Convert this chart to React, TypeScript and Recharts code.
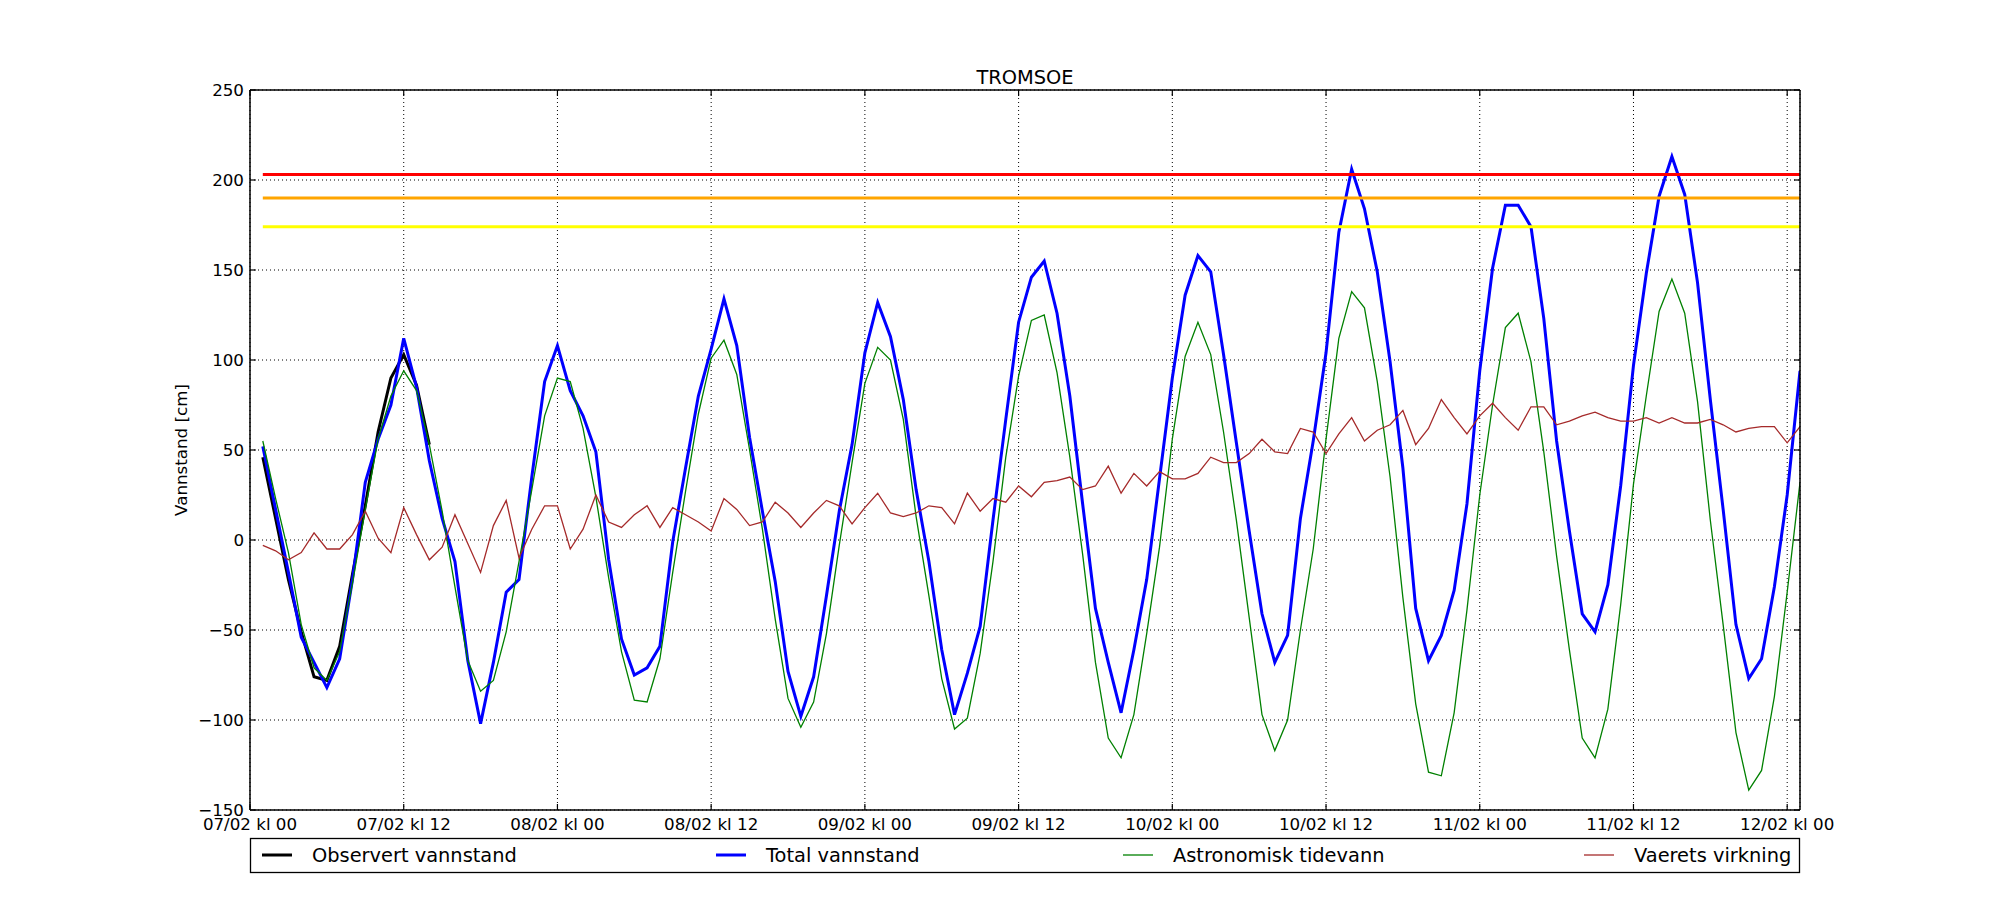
import React from 'react';
import { LineChart, Line, XAxis, YAxis, CartesianGrid, ReferenceLine } from 'recharts';

const chartTitle = 'TROMSOE';
const yAxisTitle = 'Vannstand [cm]';

const xTicks = [0, 12, 24, 36, 48, 60, 72, 84, 96, 108, 120];
const xTickLabels = [
  '07/02 kl 00', '07/02 kl 12', '08/02 kl 00', '08/02 kl 12', '09/02 kl 00', '09/02 kl 12',
  '10/02 kl 00', '10/02 kl 12', '11/02 kl 00', '11/02 kl 12', '12/02 kl 00',
];
const yTicks = [-150, -100, -50, 0, 50, 100, 150, 200, 250];

// hourly values from 07/02 kl 01
const observed = [46, 12, -22, -51, -76, -78, -59, -19, 19, 60, 90, 103, 86, 53];

const total = [
  52, 17, -18, -54, -68, -82, -66, -22, 32, 56,
  75, 112, 85, 44, 12, -12, -67, -102, -68, -29,
  -22, 35, 88, 108, 83, 69, 49, -11, -55, -75,
  -71, -59, -1, 40, 80, 106, 134, 108, 57, 16,
  -23, -73, -98, -76, -31, 16, 53, 104, 132, 113,
  78, 28, -12, -61, -97, -74, -48, 11, 67, 121,
  146, 155, 126, 80, 20, -38, -68, -96, -61, -22,
  34, 90, 136, 158, 149, 103, 54, 5, -41, -68,
  -53, 12, 55, 104, 171, 206, 184, 149, 99, 40,
  -38, -67, -53, -28, 20, 94, 151, 186, 186, 174,
  123, 55, 5, -41, -51, -25, 30, 97, 148, 191,
  213, 192, 143, 78, 17, -47, -77, -66, -26, 25,
  94,
];

const astro = [
  55, 23, -7, -47, -71, -78, -62, -24, 17, 56,
  80, 94, 83, 53, 16, -26, -67, -84, -78, -51,
  -12, 28, 69, 90, 88, 62, 24, -21, -62, -89,
  -90, -66, -18, 27, 70, 101, 111, 92, 50, 6,
  -44, -88, -104, -90, -52, -3, 43, 87, 107, 100,
  67, 13, -31, -77, -105, -99, -63, -12, 46, 91,
  122, 125, 93, 46, -8, -68, -110, -121, -97, -52,
  -4, 56, 102, 121, 103, 60, 11, -43, -97, -117,
  -100, -50, -5, 56, 112, 138, 129, 88, 35, -32,
  -91, -129, -131, -96, -39, 25, 75, 118, 126, 99,
  49, -9, -61, -110, -121, -94, -36, 31, 80, 127,
  145, 126, 77, 11, -47, -107, -139, -128, -87, -29,
  32,
];

const weather = [
  -3, -6, -11, -7, 4, -5, -5, 3, 16, 1,
  -7, 18, 3, -11, -4, 14, -2, -18, 8, 22,
  -10, 6, 19, 19, -5, 6, 25, 10, 7, 14,
  19, 7, 18, 14, 10, 5, 23, 17, 8, 10,
  21, 15, 7, 15, 22, 19, 9, 18, 26, 15,
  13, 15, 19, 18, 9, 26, 16, 23, 21, 30,
  24, 32, 33, 35, 28, 30, 41, 26, 37, 30,
  38, 34, 34, 37, 46, 43, 43, 48, 56, 49,
  48, 62, 60, 48, 59, 68, 55, 61, 64, 72,
  53, 62, 78, 68, 59, 69, 76, 68, 61, 74,
  74, 64, 66, 69, 71, 68, 66, 66, 68, 65,
  68, 65, 65, 67, 64, 60, 62, 63, 63, 54,
  63,
];

const thresholdLevels = [203, 190, 174];
const thresholdColors = ['#ff0000', '#ffa500', '#ffff00'];

const legendItems = [
  { label: 'Observert vannstand', color: '#000000', width: 3 },
  { label: 'Total vannstand', color: '#0000ff', width: 3 },
  { label: 'Astronomisk tidevann', color: '#008000', width: 1.3 },
  { label: 'Vaerets virkning', color: '#a52a2a', width: 1.3 },
];
const legendX = [262, 716, 1123, 1584];

const rows = total.map((t, i) => ({
  hour: i + 1,
  observed: i < observed.length ? observed[i] : undefined,
  total: t,
  astro: astro[i],
  weather: weather[i],
}));
const firstHour = rows[0].hour;
const lastHour = rows[rows.length - 1].hour;

const FONT = 'DejaVu Sans';
const minus = (v: number) => (v < 0 ? '\u2212' + Math.abs(v) : String(v));

const BottomTick = (props: any) => {
  const { x, y, payload } = props;
  const idx = xTicks.indexOf(payload.value);
  return (
    <g>
      <line x1={x} y1={y} x2={x} y2={y - 6} stroke="#000" strokeWidth={1.2} />
      <text x={x} y={y + 20} textAnchor="middle" fontSize={16.7} fontFamily={FONT} fill="#000">
        {idx >= 0 ? xTickLabels[idx] : ''}
      </text>
    </g>
  );
};
const TopTick = (props: any) => {
  const { x, y } = props;
  return <line x1={x} y1={y} x2={x} y2={y + 6} stroke="#000" strokeWidth={1.2} />;
};
const LeftTick = (props: any) => {
  const { x, y, payload } = props;
  return (
    <g>
      <line x1={x} y1={y} x2={x + 6} y2={y} stroke="#000" strokeWidth={1.2} />
      <text x={x - 6} y={y} textAnchor="end" dominantBaseline="central" fontSize={16.7} fontFamily={FONT} fill="#000">
        {minus(payload.value)}
      </text>
    </g>
  );
};
const RightTick = (props: any) => {
  const { x, y } = props;
  return <line x1={x} y1={y} x2={x - 6} y2={y} stroke="#000" strokeWidth={1.2} />;
};

const axisLine = { stroke: '#000', strokeWidth: 1.5 };

export default function App() {
  return (
    <div style={{ position: 'relative', width: 2000, height: 900, background: '#fff' }}>
      <style>{`body{margin:0;background:#fff}`}</style>
      <LineChart width={2000} height={900} data={rows} margin={{ top: 80, right: 190, bottom: 60, left: 190 }}>
        <CartesianGrid stroke="#000" strokeWidth={1} strokeDasharray="1 3" />
        <XAxis
          dataKey="hour"
          type="number"
          domain={[0, lastHour]}
          ticks={xTicks}
          interval={0}
          allowDataOverflow
          height={30}
          tickSize={0}
          tickMargin={0}
          tickLine={false}
          axisLine={axisLine}
          tick={<BottomTick />}
        />
        <XAxis
          xAxisId="top"
          orientation="top"
          dataKey="hour"
          type="number"
          domain={[0, lastHour]}
          ticks={xTicks}
          interval={0}
          allowDataOverflow
          height={10}
          tickSize={0}
          tickMargin={0}
          tickLine={false}
          axisLine={axisLine}
          tick={<TopTick />}
        />
        <YAxis
          type="number"
          domain={[-150, 250]}
          ticks={yTicks}
          interval={0}
          allowDataOverflow
          width={60}
          tickSize={0}
          tickMargin={0}
          tickLine={false}
          axisLine={axisLine}
          tick={<LeftTick />}
        />
        <YAxis
          yAxisId="right"
          orientation="right"
          type="number"
          domain={[-150, 250]}
          ticks={yTicks}
          interval={0}
          allowDataOverflow
          width={10}
          tickSize={0}
          tickMargin={0}
          tickLine={false}
          axisLine={axisLine}
          tick={<RightTick />}
        />
        <Line type="linear" dataKey="observed" stroke="#000000" strokeWidth={3} dot={false} activeDot={false} isAnimationActive={false} />
        <Line type="linear" dataKey="total" stroke="#0000ff" strokeWidth={3} dot={false} activeDot={false} isAnimationActive={false} />
        <Line type="linear" dataKey="astro" stroke="#008000" strokeWidth={1.3} dot={false} activeDot={false} isAnimationActive={false} />
        <Line type="linear" dataKey="weather" stroke="#a52a2a" strokeWidth={1.3} dot={false} activeDot={false} isAnimationActive={false} />
        {thresholdLevels.map((lvl, i) => (
          <ReferenceLine
            key={lvl}
            segment={[{ x: firstHour, y: lvl }, { x: lastHour, y: lvl }]}
            stroke={thresholdColors[i]}
            strokeWidth={3}
            ifOverflow="visible"
          />
        ))}
      </LineChart>
      <svg width={2000} height={900} style={{ position: 'absolute', left: 0, top: 0, pointerEvents: 'none' }}>
        <text x={1025} y={84} textAnchor="middle" fontSize={19.4} fontFamily={FONT} fill="#000">{chartTitle}</text>
        <text
          x={181}
          y={450}
          transform="rotate(-90 181 450)"
          textAnchor="middle"
          dominantBaseline="central"
          fontSize={16.7}
          fontFamily={FONT}
          fill="#000"
        >
          {yAxisTitle}
        </text>
        <rect x={250.5} y={838.5} width={1549} height={34} fill="#fff" stroke="#000" strokeWidth={1.3} />
        {legendItems.map((it, i) => (
          <g key={it.label}>
            <line x1={legendX[i]} y1={855} x2={legendX[i] + 30} y2={855} stroke={it.color} strokeWidth={it.width} />
            <text x={legendX[i] + 50} y={855} dominantBaseline="central" fontSize={19.4} fontFamily={FONT} fill="#000">
              {it.label}
            </text>
          </g>
        ))}
      </svg>
    </div>
  );
}
